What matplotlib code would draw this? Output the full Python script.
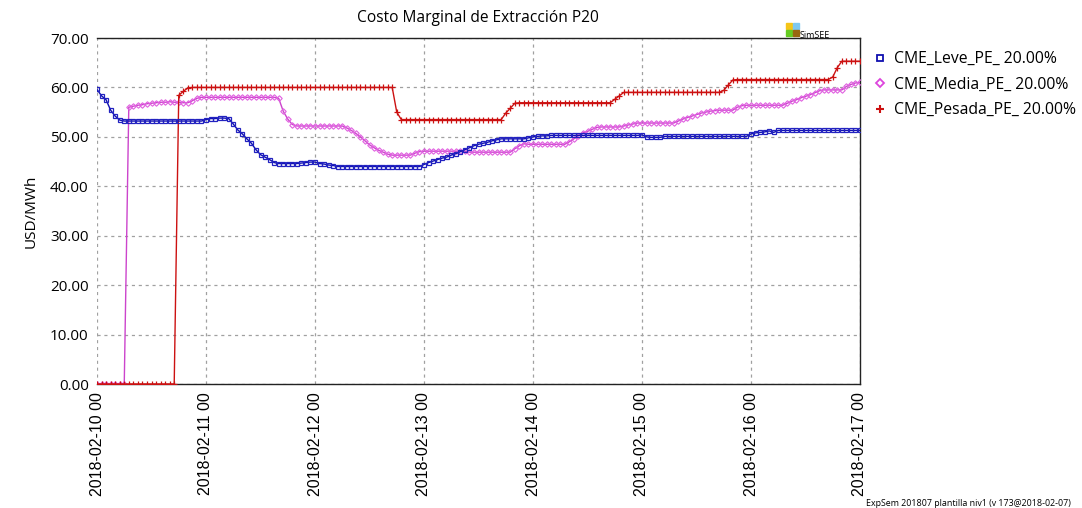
import numpy as np
import matplotlib
matplotlib.use("Agg")
import matplotlib.pyplot as plt
import matplotlib.dates as mdates
from matplotlib.lines import Line2D
import pandas as pd

hours = pd.date_range("2018-02-10 00:00", "2018-02-17 00:00", freq="h")

leve = ([59.6, 58.3, 57.5, 55.4, 54.2, 53.4] + [53.2] * 18 +
        [53.5, 53.7, 53.7, 53.8, 53.8, 53.7, 52.6, 51.4, 50.6, 49.6, 48.7, 47.4,
         46.4, 45.9, 45.4, 44.8] + [44.6] * 5 +
        [44.7, 44.8, 44.9, 44.9, 44.6, 44.5, 44.3, 44.2] + [44.0] * 19 +
        [44.4, 44.8, 45.1, 45.4, 45.7, 45.9, 46.3, 46.6, 47.0, 47.4, 47.8, 48.2,
         48.5, 48.7, 48.9, 49.2, 49.4, 49.6] + [49.6] * 5 +
        [49.8, 50.0, 50.1, 50.2, 50.2, 50.3] + [50.3] * 19 +
        [50.4, 50.0, 49.9, 49.9, 49.9] + [50.1] * 19 +
        [50.6, 50.8, 50.9, 51.0, 51.2, 50.9] + [51.3] * 19)

media = ([0.0] * 7 +
         [56.0, 56.2, 56.4, 56.5, 56.7, 56.8, 56.9, 57.0, 57.0, 57.1, 57.0,
          57.0, 56.9, 56.9, 57.3, 57.8, 58.0] + [58.0] * 16 +
         [57.8, 55.2, 53.6, 52.5] + [52.2] * 11 +
         [51.8, 51.3, 50.7, 50.0, 49.2, 48.4, 47.8, 47.3, 46.9, 46.5, 46.3] +
         [46.3] * 4 + [46.7, 47.0] + [47.1] * 10 + [46.9] * 10 +
         [47.6, 48.2, 48.6] + [48.5] * 9 +
         [49.0, 49.6, 50.2, 50.8, 51.1, 51.5, 51.9] + [52.0] * 5 +
         [52.2, 52.4, 52.6, 52.8] + [52.8] * 8 +
         [53.2, 53.6, 53.9, 54.2, 54.5, 54.8, 55.0, 55.2, 55.3, 55.4] + [55.4] * 3 +
         [56.0, 56.3] + [56.4] * 9 +
         [56.8, 57.2, 57.5, 57.9, 58.2, 58.5, 58.9, 59.3, 59.5] + [59.5] * 4 +
         [60.2, 60.6, 60.9, 61.0])

pesada = ([0.0] * 18 +
          [58.4, 59.2, 59.9] + [60.0] * 45 +
          [55.0, 53.5] + [53.5] * 22 +
          [54.8, 55.8, 56.8] + [56.9] * 21 +
          [57.6, 58.3, 59.0] + [59.0] * 21 +
          [59.4, 60.5, 61.5] + [61.6] * 21 +
          [62.1, 64.0] + [65.3] * 5)

yticks = [0, 10, 20, 30, 40, 50, 60, 70]
title = "Costo Marginal de Extracción P20"
labels = ["CME_Leve_PE_ 20.00%", "CME_Media_PE_ 20.00%", "CME_Pesada_PE_ 20.00%"]

W, H = 1082, 508
fig = plt.figure(figsize=(W / 100, H / 100), dpi=100)
ax = fig.add_axes([97 / W, 124 / H, 763 / W, 346 / H])

ax.plot(hours, media, color="#cc44cc", lw=1.0, marker="D", ms=2.8,
        mfc="none", mec="#e060e0", mew=0.8, label=labels[1], zorder=3)
ax.plot(hours, pesada, color="#cc1111", lw=1.0, marker="+", ms=5,
        mec="#cc1111", mew=0.9, label=labels[2], zorder=4)
ax.plot(hours, leve, color="#1010b0", lw=1.0, marker="s", ms=3.5,
        mfc="none", mec="#2222c0", mew=0.9, label=labels[0], zorder=5)

ax.set_xlim(hours[0], hours[-1])
ax.set_ylim(0, 70)
ax.set_yticks(yticks)
ax.set_yticklabels([f"{v:.2f}" for v in yticks], fontfamily="Open Sans", fontsize=11)
ax.xaxis.set_major_locator(mdates.DayLocator())
ax.xaxis.set_major_formatter(mdates.DateFormatter("%Y-%m-%d %H"))
for lbl in ax.get_xticklabels():
    lbl.set_rotation(90)
    lbl.set_fontfamily("Liberation Sans")
    lbl.set_fontsize(11.5)
ax.tick_params(length=0, pad=6)
ax.grid(True, color="#a0a0a0", ls=(0, (2.5, 3)), lw=0.9)
ax.spines["left"].set_visible(False)
for s in ["top", "right", "bottom"]:
    ax.spines[s].set_color("#222222")
    ax.spines[s].set_linewidth(1.0)

ax.set_ylabel("USD/MWh", fontfamily="Open Sans", fontsize=11, labelpad=8)
fig.text(478 / W, 1 - 18 / H, title, ha="center", va="center",
         fontfamily="Open Sans", fontsize=11.2)

leg_handles = [
    Line2D([], [], ls="none", marker="s", ms=4, mfc="none", mec="#1010b0", mew=1.3),
    Line2D([], [], ls="none", marker="D", ms=4, mfc="none", mec="#dd44dd", mew=1.3),
    Line2D([], [], ls="none", marker="+", ms=5.5, mec="#cc1111", mew=1.5),
]
fig.legend(leg_handles, labels, loc="upper left", bbox_to_anchor=(867 / W, 1 - 45 / H),
           frameon=False, prop={"family": "Open Sans", "size": 11.3},
           handlelength=0.8, handletextpad=0.5, labelspacing=0.6, borderaxespad=0)

# SimSEE logo
for (dx, dy, c) in [(0, 0, "#f5c518"), (7, 0, "#7ec8f0"), (0, 7, "#66cc22"), (7, 7, "#996611")]:
    fig.patches.append(plt.Rectangle(((786 + dx) / W, 1 - (29 + dy) / H), 6 / W, 6 / H,
                                     transform=fig.transFigure, color=c))
fig.text(800 / W, 1 - 35 / H, "SimSEE", fontsize=6.5, fontfamily="Open Sans",
         va="center", ha="left")

fig.text(866 / W, 1 - 503 / H, "ExpSem 201807 plantilla niv1 (v 173@2018-02-07)",
         fontsize=6.4, fontfamily="Open Sans", va="center", ha="left")

fig.savefig("out.png", dpi=100)
